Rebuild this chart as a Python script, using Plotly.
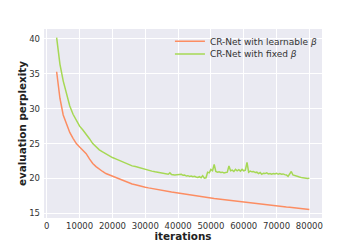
import plotly.graph_objects as go

# Learnable beta series (iterations, evaluation perplexity)
iters_learnable = list(range(3000, 80001, 1000))
ppl_learnable = [
    35.3, 31.5, 29.1, 27.7, 26.6, 25.75, 25.0, 24.5, 24.0, 23.55,
    22.8, 22.15, 21.7, 21.3, 21.0, 20.7, 20.5, 20.3, 20.1, 19.9,
    19.7, 19.5, 19.35, 19.2, 19.1, 18.95, 18.85, 18.75, 18.65, 18.55,
    18.45, 18.35, 18.27, 18.2, 18.12, 18.05, 17.98, 17.9, 17.82, 17.75,
    17.68, 17.6, 17.53, 17.46, 17.4, 17.33, 17.27, 17.2, 17.13, 17.07,
    17.0, 16.94, 16.88, 16.82, 16.76, 16.7, 16.64, 16.58, 16.52, 16.46,
    16.4, 16.35, 16.3, 16.25, 16.2, 16.15, 16.1, 16.05, 16.0, 15.95,
    15.9, 15.86, 15.82, 15.77, 15.72, 15.67, 15.62, 15.56,
]

# Fixed beta series
iters_fixed = (list(range(3000, 37001, 1000)) + [37500, 38000, 39000, 40000]
               + list(range(40500, 80001, 500)))
ppl_fixed = [
    40.2, 36.4, 34.0, 32.0, 30.4, 29.2, 28.3, 27.5, 26.95, 26.4,
    25.7, 25.0, 24.5, 24.1, 23.8, 23.5, 23.2, 23.0, 22.8, 22.6,
    22.3, 22.1, 21.95, 21.8, 21.7, 21.55, 21.4, 21.3, 21.2, 21.05,
    20.95, 20.85, 20.75, 20.65, 20.6,
    20.8, 20.55, 20.5, 20.55,
    20.5, 20.6, 20.45, 20.5, 20.35, 20.4, 20.3, 20.35, 20.25, 20.3,
    20.2, 20.15, 20.25, 20.1, 20.4, 20.05, 20.1, 20.9, 20.8, 21.3,
    21.1, 22.0, 21.0, 20.9, 20.95, 20.85, 20.9, 20.8, 20.85, 20.9,
    21.8, 21.1, 21.2, 21.0, 21.3, 21.1, 21.25, 21.05, 21.3, 21.1,
    21.2, 22.3, 20.9, 21.05, 20.95, 21.0, 20.85, 20.9, 20.7, 20.85,
    20.6, 20.75, 20.7, 20.8, 20.65, 20.7, 20.6, 20.7, 20.65, 20.75,
    20.6, 20.7, 20.6, 20.65, 20.55, 20.5, 20.3, 20.6, 21.0, 20.5,
    20.4, 20.3, 20.25, 20.2, 20.15, 20.1, 20.1, 20.05, 20.0, 20.05,
]

x_ticks = [0, 10000, 20000, 30000, 40000, 50000, 60000, 70000, 80000]
y_ticks = [15, 20, 25, 30, 35, 40]

FONT = "DejaVu Sans"
LEG_FONT = dict(family=FONT, size=9, color="#333333")

fig = go.Figure()
fig.add_trace(go.Scatter(
    x=iters_learnable, y=ppl_learnable, mode="lines",
    name="CR-Net with learnable <i>β</i>",
    line=dict(color="#FC8D62", width=1.5),
    legend="legend",
))
fig.add_trace(go.Scatter(
    x=iters_fixed, y=ppl_fixed, mode="lines",
    name="CR-Net with fixed <i>β</i>",
    line=dict(color="#A6D854", width=1.5),
    legend="legend2",
))

leg_common = dict(xanchor="left", yanchor="middle",
                  bgcolor="rgba(0,0,0,0)", borderwidth=0,
                  font=LEG_FONT, itemwidth=30)

fig.update_layout(
    width=357, height=245,
    margin=dict(l=44, r=35, t=29, b=27, pad=0, autoexpand=False),
    paper_bgcolor="white",
    plot_bgcolor="#EAEAF2",
    font=dict(family=FONT, size=8.5, color="#333333"),
    showlegend=True,
    legend=dict(x=0.453, y=0.935, **leg_common),
    legend2=dict(x=0.453, y=0.868, **leg_common),
)
fig.update_xaxes(
    range=[-850, 83850], tickvals=x_ticks,
    ticktext=[str(v) for v in x_ticks],
    showgrid=True, gridcolor="white", gridwidth=1,
    zeroline=False, showline=False, automargin=False,
    ticks="", ticklabelstandoff=1,
    tickfont=dict(family=FONT, size=8.5, color="#333333"),
    title=dict(text="<b>iterations</b>", standoff=1,
               font=dict(family=FONT, size=10.4, color="#222222")),
)
fig.update_yaxes(
    range=[14.33, 41.43], tickvals=y_ticks,
    ticktext=[str(v) for v in y_ticks],
    showgrid=True, gridcolor="white", gridwidth=1,
    zeroline=False, showline=False, automargin=False,
    ticks="", ticklabelstandoff=3,
    tickfont=dict(family=FONT, size=8.5, color="#333333"),
    title=dict(text="<b>evaluation perplexity</b>", standoff=0,
               font=dict(family=FONT, size=10.4, color="#222222")),
)

fig.write_html(
    "out.html",
    config={"displayModeBar": False},
    post_script="document.body.style.margin='0px';document.body.style.overflow='hidden';",
)
